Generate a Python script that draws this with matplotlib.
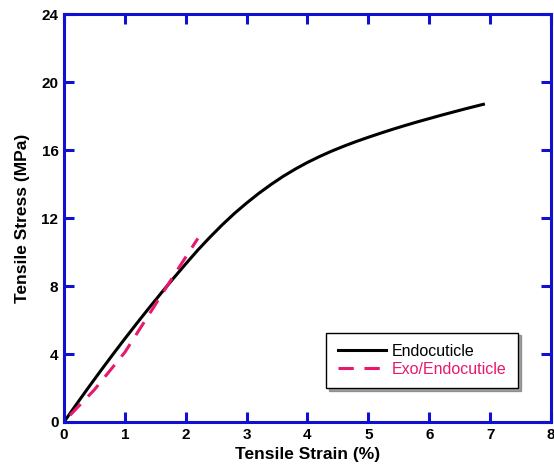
import matplotlib
matplotlib.use("Agg")
import matplotlib.pyplot as plt

# Endocuticle curve
endo_strain = [0, 0.2, 0.4, 0.6, 0.8, 1.0, 1.2, 1.4, 1.6, 1.8, 2.0, 2.2, 2.4, 2.6, 2.8,
               3.0, 3.2, 3.4, 3.6, 3.8, 4.0, 4.2, 4.4, 4.6, 4.8, 5.0, 5.2, 5.4, 5.6,
               5.8, 6.0, 6.2, 6.4, 6.6, 6.8, 6.89]
endo_stress = [0, 1.02, 2.02, 3.0, 3.96, 4.9, 5.82, 6.72, 7.6, 8.46, 9.3, 10.12, 10.88, 11.6, 12.27,
               12.88, 13.45, 13.97, 14.45, 14.88, 15.27, 15.62, 15.94, 16.23, 16.5, 16.75, 16.99, 17.22, 17.44,
               17.65, 17.85, 18.05, 18.24, 18.43, 18.61, 18.69]

# Exo/Endocuticle curve
exo_strain = [0.1, 0.5, 1.0, 1.5, 1.8, 2.2]
exo_stress = [0.4, 1.9, 4.1, 6.9, 8.6, 10.8]

blue = "#1010d0"
pink = "#e8186c"

plt.rcParams['font.family'] = ['Liberation Sans', 'DejaVu Sans']

fig = plt.figure(figsize=(5.54, 4.68), dpi=100)
ax = fig.add_axes([0.1155, 0.0983, 0.879, 0.8717])

ax.plot(endo_strain, endo_stress, color="black", lw=2.2, label="Endocuticle")
ax.plot(exo_strain, exo_stress, color=pink, lw=2.2, ls=(0, (5, 3.5)), label="Exo/Endocuticle")

ax.set_xlim(0, 8)
ax.set_ylim(0, 24)
ax.set_xticks(range(0, 9))
ax.set_yticks(range(0, 25, 4))

for s in ax.spines.values():
    s.set_color(blue)
    s.set_linewidth(2.2)

ax.tick_params(direction="in", length=7, width=2.2, color=blue,
               top=True, right=True, labelsize=11, pad=4)
for lbl in ax.get_xticklabels() + ax.get_yticklabels():
    lbl.set_fontweight("bold")

ax.set_xlabel("Tensile Strain (%)", fontsize=12.5, fontweight="bold", labelpad=4)
ax.set_ylabel("Tensile Stress (MPa)", fontsize=12.5, fontweight="bold", labelpad=8)

leg = ax.legend(loc="lower right", bbox_to_anchor=(0.932, 0.083), borderaxespad=0,
                fontsize=11.5, frameon=True, fancybox=False, shadow=True,
                labelcolor="linecolor", handlelength=3.0, handletextpad=0.4,
                borderpad=0.7, labelspacing=0.2)
leg.get_frame().set_edgecolor("black")
leg.get_frame().set_linewidth(1.0)

fig.savefig("out.png", dpi=100)
